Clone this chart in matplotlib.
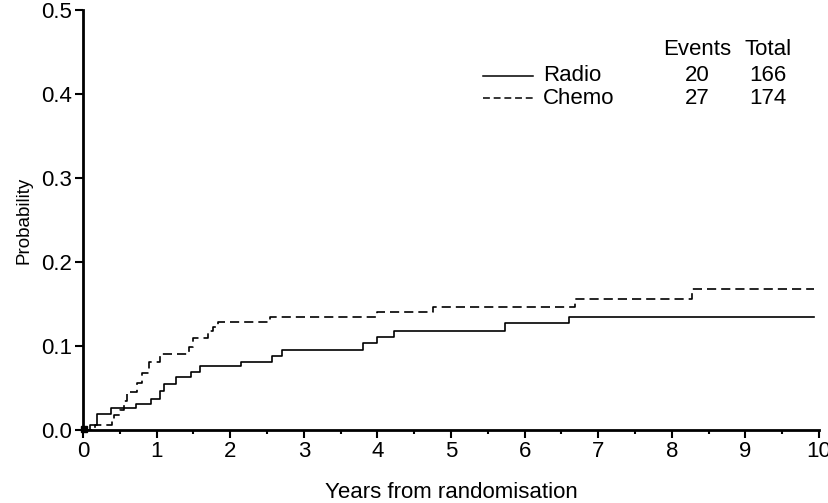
import matplotlib
matplotlib.use("Agg")
import matplotlib.pyplot as plt
from matplotlib.ticker import MultipleLocator

# step curves: (years, cumulative probability)
radio_t = [0, 0.10, 0.19, 0.38, 0.72, 0.92, 1.05, 1.10, 1.27, 1.47, 1.59, 2.15,
           2.57, 2.70, 3.80, 3.99, 4.22, 5.74, 6.61, 9.93]
radio_p = [0, 0.006, 0.019, 0.026, 0.031, 0.037, 0.047, 0.055, 0.063, 0.069, 0.076, 0.081,
           0.088, 0.095, 0.103, 0.111, 0.118, 0.127, 0.134, 0.134]

chemo_t = [0, 0.16, 0.39, 0.42, 0.50, 0.56, 0.60, 0.73, 0.80, 0.89, 1.05, 1.44,
           1.49, 1.70, 1.76, 1.84, 2.54, 3.99, 4.76, 6.69, 8.28, 9.93]
chemo_p = [0, 0.006, 0.012, 0.018, 0.024, 0.035, 0.045, 0.056, 0.068, 0.081, 0.091, 0.099,
           0.110, 0.118, 0.123, 0.129, 0.134, 0.140, 0.146, 0.156, 0.168, 0.168]

groups = ["Radio", "Chemo"]
events = [20, 27]
totals = [166, 174]

plt.rcParams["font.family"] = ["Liberation Sans", "DejaVu Sans"]
fs = 16

fig = plt.figure(figsize=(8.29, 5.03), dpi=100)
ax = fig.add_axes([83 / 829, 73 / 503, 736 / 829, 420 / 503])

ax.plot(radio_t, radio_p, drawstyle="steps-post", color="black", lw=1.2)
ax.plot(chemo_t, chemo_p, drawstyle="steps-post", color="black", lw=1.2, dashes=(5.5, 3))
# small marker at the origin as in the original
ax.plot([0.02], [0.001], marker="s", ms=4, color="black", clip_on=False)

ax.set_xlim(0, 10)
ax.set_ylim(0, 0.5)
ax.xaxis.set_major_locator(MultipleLocator(1))
ax.xaxis.set_minor_locator(MultipleLocator(0.5))
ax.yaxis.set_major_locator(MultipleLocator(0.1))
ax.yaxis.set_major_formatter(matplotlib.ticker.FormatStrFormatter("%.1f"))

for side in ["top", "right"]:
    ax.spines[side].set_visible(False)
for side in ["left", "bottom"]:
    ax.spines[side].set_linewidth(2)
ax.tick_params(which="major", length=6, width=1.5, labelsize=fs, direction="out", pad=2)
ax.tick_params(which="minor", length=3, width=1.5, direction="out")

ax.set_xlabel("Years from randomisation", fontsize=fs, labelpad=14)
ax.set_ylabel("Probability", fontsize=13.5, labelpad=6)

# legend table
ax.text(0.834, 0.905, "Events", transform=ax.transAxes, ha="center", va="center", fontsize=fs)
ax.text(0.931, 0.905, "Total", transform=ax.transAxes, ha="center", va="center", fontsize=fs)
rows_y = [0.843, 0.790]
styles = [dict(), dict(dashes=(4.5, 2.5))]
for g, e, n, yy, st in zip(groups, events, totals, rows_y, styles):
    ax.plot([0.5435, 0.611], [yy, yy], transform=ax.transAxes, color="black", lw=1.1, **st)
    ax.text(0.625, yy, g, transform=ax.transAxes, ha="left", va="center", fontsize=fs)
    ax.text(0.834, yy, str(e), transform=ax.transAxes, ha="center", va="center", fontsize=fs)
    ax.text(0.931, yy, str(n), transform=ax.transAxes, ha="center", va="center", fontsize=fs)

fig.savefig("out.png", dpi=100)
